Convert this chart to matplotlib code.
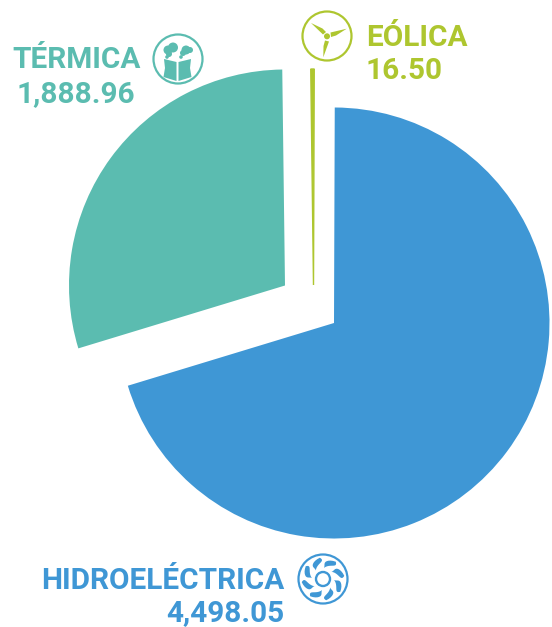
import numpy as np
import matplotlib
matplotlib.use('Agg')
import matplotlib.pyplot as plt
from matplotlib.patches import Circle, Polygon

W, H = 552, 627

# MW per source, clockwise from the top
sources = ["HIDROELÉCTRICA", "TÉRMICA", "EÓLICA"]
values = [4498.05, 1888.96, 16.50]
value_labels = ["4,498.05", "1,888.96", "16.50"]
colors = ["#3F97D5", "#5BBCB0", "#AEC62F"]


def py(y):
    # picture y (from the top) to axes y
    return H - y


fig = plt.figure(figsize=(W / 100, H / 100), dpi=100)
ax = fig.add_axes([0, 0, 1, 1])

wedges, _ = ax.pie(values, colors=colors, startangle=89.8, counterclock=False,
                   radius=216, frame=False)
# each slice is pulled away from the others by hand
centers = [(334, 323), (285, 285.5), (313.5, 285)]
for w, c in zip(wedges, centers):
    w.set_center((c[0], py(c[1])))
wedges[0].set_radius(215.5)
wedges[2].set_edgecolor(colors[2])
wedges[2].set_linewidth(1.0)

ax.set_xlim(0, W)
ax.set_ylim(0, H)
ax.set_aspect('equal')
ax.axis('off')

font = {'family': 'Roboto', 'weight': 'bold', 'fontsize': 21.4}
ax.text(284.5, py(589), sources[0], color=colors[0], ha='right', va='baseline', **font)
ax.text(284.5, py(621), value_labels[0], color=colors[0], ha='right', va='baseline', **font)
ax.text(140.5, py(68), sources[1], color=colors[1], ha='right', va='baseline', **font)
ax.text(135, py(102), value_labels[1], color=colors[1], ha='right', va='baseline', **font)
ax.text(366, py(46), sources[2], color=colors[2], ha='left', va='baseline', **font)
ax.text(366, py(79), value_labels[2], color=colors[2], ha='left', va='baseline', **font)


def ring(cx, cy, color):
    ax.add_patch(Circle((cx, py(cy)), 24.5, fill=False, ec=color, lw=1.6))


def poly(pts, color):
    ax.add_patch(Polygon([(x, py(y)) for x, y in pts], closed=True, fc=color, ec='none'))


def blob(x, y, r, color):
    ax.add_patch(Circle((x, py(y)), r, fc=color, ec='none'))


# thermal icon: two cooling towers with smoke
c = colors[1]
ring(178, 59, c)
poly([(164, 59), (176.5, 62), (176.5, 81), (163.5, 77), (165, 68)], c)
poly([(191, 59), (178.5, 62), (178.5, 81), (191.5, 77), (190, 68)], c)
for x, y, r in [(173, 47.5, 5), (168, 50, 4.5), (169, 54, 3), (167, 57, 1.8)]:
    blob(x, y, r, c)
for x, y, r in [(186, 50, 4.5), (190, 50, 3), (183, 53, 3), (181, 57, 1.8)]:
    blob(x, y, r, c)

# wind icon: three blades round a hub
c = colors[2]
ring(327, 36, c)
poly([(311, 23), (322.5, 28.5), (326, 32), (323, 34.5)], c)
poly([(346.7, 28.7), (336, 35.5), (331, 37), (330.5, 32.5)], c)
poly([(323.3, 57.3), (323.5, 46), (325, 40.5), (329, 41.5)], c)
blob(327, 36.3, 3, c)

# hydro icon: turbine with curved blades
c = colors[0]
cx, cy = 323, 579
ring(cx, cy, c)
ax.add_patch(Circle((cx, py(cy)), 7.0, fill=False, ec=c, lw=1.7))
for k in range(8):
    a = np.radians(k * 45 + 5)
    t = np.linspace(0, 1, 14)
    rr = 11 + 10.5 * t
    mid = a + 0.55 * t
    half = 0.27 * np.sin(np.pi * t ** 1.4)
    outer = [(cx + r * np.cos(m + h), cy + r * np.sin(m + h)) for r, m, h in zip(rr, mid, half)]
    inner = [(cx + r * np.cos(m - h), cy + r * np.sin(m - h)) for r, m, h in zip(rr, mid, half)]
    poly(outer + inner[::-1], c)

fig.savefig("out.png", dpi=100, facecolor='white')
